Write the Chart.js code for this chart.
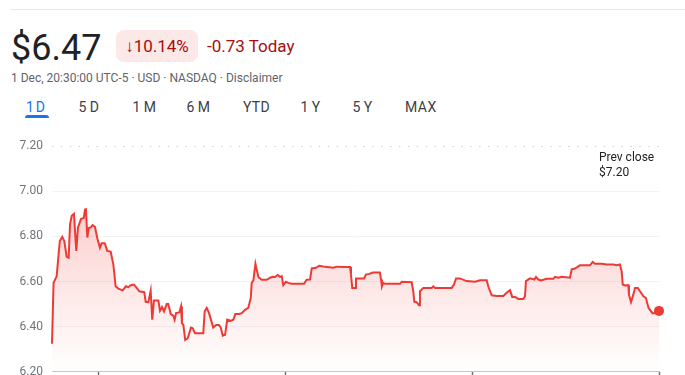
<!DOCTYPE html>
<html>
<head>
<meta charset="utf-8">
<script src="https://cdn.jsdelivr.net/npm/chart.js@4"></script>
<style>
  html, body { margin: 0; padding: 0; background: #fff; }
  body { width: 685px; height: 375px; overflow: hidden; position: relative; font-family: Roboto, "Noto Sans", sans-serif; }
  .abs { position: absolute; white-space: nowrap; }
  #rule { left: 11px; right: 0; top: 9px; height: 1px; background: #e8eaed; }
  #price { left: 11px; top: 30px; font-size: 36px; line-height: 36px; color: #202124; }
  #badge { left: 116px; top: 29.5px; width: 82px; height: 32.5px; border-radius: 8px; background: #fce8e6; color: #a50e0e; font-size: 17px; line-height: 32.5px; text-align: center; }
  #chg { left: 207px; top: 29.5px; font-size: 17px; line-height: 32.5px; color: #a50e0e; }
  #sub { left: 11px; top: 71px; font-size: 12px; line-height: 14px; color: #5f6368; }
  .tab { top: 99px; font-size: 14px; line-height: 16px; color: #3c4043; font-weight: 400; }
  .tab.active { color: #1a73e8; }
  #uline { left: 25px; top: 114.5px; width: 24px; height: 3px; border-radius: 3px 3px 0 0; background: #1a73e8; }
  #prev { left: 599px; top: 150px; font-size: 12px; line-height: 15px; color: #202124; z-index: 2; }
  #c { position: absolute; left: 0; top: 130px; }
</style>
</head>
<body>
<div class="abs" id="rule"></div>
<div class="abs" id="price">$6.47</div>
<div class="abs" id="badge">↓10.14%</div>
<div class="abs" id="chg">-0.73 Today</div>
<div class="abs" id="sub">1 Dec, 20:30:00 UTC-5 · USD · NASDAQ · Disclaimer</div>
<div id="tabs"></div>
<div class="abs" id="uline"></div>
<div class="abs" id="prev">Prev close<br>$7.20</div>
<canvas id="c" width="685" height="258"></canvas>
<script>
// ---- data ----
const tabLabels = ["1D", "5D", "1M", "6M", "YTD", "1Y", "5Y", "MAX"];
const prevClose = 7.20;
// minutes after 9:30 am
const minutes = [0,1,3,5,6.6,7.9,9.4,10.7,11.6,12.7,14.1,15.6,16.7,18.6,20.4,21.2,21.8,22.7,23.6,24.9,26.1,27.6,29.1,30.8,31.9,33.9,35.5,37.7,39.4,40.9,42.6,45.4,47.5,49,50.6,52.7,54.4,56.1,59.3,60.2,61.9,63.4,64.4,65.5,68.3,69.4,70.7,72,73.7,74.7,76.3,77.9,78.8,79.7,81.8,82.9,83.5,84.4,85.6,87.2,89.3,90.4,91.9,96.2,97.2,98.1,99.4,100.9,103.6,105.4,107.3,108.4,109.7,111.2,112.6,114.8,116.5,117.8,120.3,121.9,124,126.1,127.7,128.3,129.4,130.7,131.5,132.6,134.7,138,140.1,141.8,143.3,145,146.5,147.6,148.6,150.3,151.8,154,161.9,163.6,165.8,166.9,169.6,171.7,174.3,180.7,182.9,188.3,191.5,192.1,192.9,194.7,195.3,197.9,200.5,201.7,203.9,206,210.7,211.4,212,212.9,213.9,223.6,224.7,231.1,232.1,232.8,234.3,235.8,236.4,238.6,243.9,245,246.1,256.8,258.3,259.6,262.1,266.4,271.8,275,279.3,280.3,282.5,285.7,290,292.1,294.3,295.7,297.5,299.6,302.8,303.9,304.5,307.1,309.9,311,312.5,314.2,317.9,322.1,323.2,325.3,327.5,332.8,333.9,336,339.2,343.5,345.7,347.4,348.9,353.2,356.4,360.7,362.8,364.9,366,366.7,368.2,370.3,370.7,372,373.5,374.6,376.4,377.8,380,381.6,383.3,385.8,387.6,390];
const prices = [6.324,6.594,6.624,6.78,6.798,6.78,6.71,6.706,6.855,6.892,6.90,6.736,6.84,6.877,6.882,6.919,6.92,6.795,6.837,6.84,6.85,6.843,6.792,6.75,6.77,6.77,6.736,6.733,6.676,6.579,6.569,6.561,6.579,6.575,6.584,6.587,6.572,6.557,6.553,6.51,6.509,6.56,6.431,6.516,6.516,6.471,6.487,6.468,6.50,6.50,6.456,6.449,6.431,6.46,6.463,6.49,6.416,6.408,6.341,6.349,6.396,6.393,6.371,6.371,6.371,6.468,6.483,6.46,6.396,6.408,6.408,6.396,6.36,6.364,6.431,6.426,6.431,6.456,6.456,6.46,6.475,6.483,6.527,6.594,6.605,6.679,6.654,6.62,6.608,6.608,6.617,6.621,6.62,6.629,6.621,6.624,6.584,6.599,6.594,6.59,6.59,6.608,6.609,6.658,6.661,6.67,6.667,6.661,6.666,6.664,6.664,6.631,6.572,6.572,6.614,6.614,6.614,6.631,6.634,6.64,6.64,6.609,6.579,6.594,6.59,6.59,6.599,6.597,6.557,6.51,6.509,6.495,6.557,6.572,6.572,6.579,6.572,6.572,6.587,6.614,6.614,6.602,6.599,6.606,6.606,6.579,6.539,6.536,6.536,6.55,6.562,6.532,6.532,6.523,6.523,6.535,6.602,6.614,6.609,6.621,6.609,6.605,6.612,6.612,6.621,6.617,6.621,6.617,6.654,6.658,6.672,6.672,6.672,6.687,6.679,6.679,6.676,6.676,6.672,6.676,6.646,6.587,6.583,6.584,6.542,6.509,6.542,6.572,6.572,6.557,6.535,6.527,6.483,6.46,6.46,6.47];
const xTickMinutes = [30, 150, 270, 390];
const xTickLabels = ["10:00 am", "12:00 pm", "2:00 pm", "4:00 pm"];
const yTicks = [6.2, 6.4, 6.6, 6.8, 7.0, 7.2];

// ---- header tabs ----
const tabLefts = [26, 78.5, 132.5, 186.5, 243, 300.5, 352.5, 405];
const tabSpacing = [2, 3.5, 3.5, 3.5, 0.3, 3.5, 3.5, 0.5];
const tabsEl = document.getElementById('tabs');
tabLabels.forEach((t, i) => {
  const d = document.createElement('div');
  d.className = 'abs tab' + (i === 0 ? ' active' : '');
  d.style.left = tabLefts[i] + 'px';
  d.style.letterSpacing = tabSpacing[i] + 'px';
  d.textContent = t;
  tabsEl.appendChild(d);
});

// ---- chart ----
const RED = '#ee3a34';
const lineData = minutes.map((m, i) => ({ x: m, y: prices[i] }));
const prevData = [{ x: 0, y: prevClose }, { x: 390, y: prevClose }];
const lastIdx = lineData.length - 1;

new Chart(document.getElementById('c'), {
  type: 'line',
  data: {
    datasets: [
      {
        data: lineData,
        borderColor: RED,
        borderWidth: 2,
        tension: 0,
        clip: false,
        pointRadius: (ctx) => ctx.dataIndex === lastIdx ? 5 : 0,
        pointHoverRadius: 0,
        pointBackgroundColor: RED,
        pointBorderWidth: 0,
        fill: 'start',
        backgroundColor: (ctx) => {
          const ch = ctx.chart, area = ch.chartArea;
          if (!area) return 'rgba(238,58,52,0.1)';
          const g = ch.ctx.createLinearGradient(0, area.top + 63, 0, area.bottom);
          g.addColorStop(0, 'rgba(238,58,52,0.24)');
          g.addColorStop(1, 'rgba(238,58,52,0)');
          return g;
        }
      },
      {
        data: prevData,
        borderColor: '#9aa0a6',
        borderWidth: 1.3,
        borderDash: [1.3, 7.6],
        pointRadius: 0,
        fill: false
      }
    ]
  },
  options: {
    responsive: false,
    animation: false,
    events: [],
    layout: { padding: { top: 16, right: 26, left: 0, bottom: 0 } },
    plugins: { legend: { display: false }, tooltip: { enabled: false } },
    scales: {
      x: {
        type: 'linear',
        min: 0,
        max: 390,
        afterBuildTicks: (s) => { s.ticks = xTickMinutes.map(v => ({ value: v })); },
        afterFit: (s) => { s.height = 10; },
        ticks: {
          display: false,
          callback: (v) => xTickLabels[xTickMinutes.indexOf(v)] || ''
        },
        grid: { drawOnChartArea: false, drawTicks: true, tickLength: 8, tickColor: '#70757a', tickWidth: 1.5 },
        border: { display: true, color: '#c4c7c5', width: 1 }
      },
      y: {
        min: 6.2,
        max: 7.2,
        afterBuildTicks: (s) => { s.ticks = yTicks.map(v => ({ value: v })); },
        afterFit: (s) => { s.width = 52; },
        ticks: {
          padding: 9,
          color: '#70757a',
          font: { family: 'Roboto', size: 12 },
          callback: (v) => Number(v).toFixed(2)
        },
        grid: {
          drawTicks: false,
          color: (ctx) => {
            const v = ctx.tick ? ctx.tick.value : 0;
            if (Math.abs(v - 7.2) < 1e-6 || Math.abs(v - 6.2) < 1e-6) return 'rgba(0,0,0,0)';
            return '#f1f3f4';
          }
        },
        border: { display: false }
      }
    }
  }
});
</script>
</body>
</html>
